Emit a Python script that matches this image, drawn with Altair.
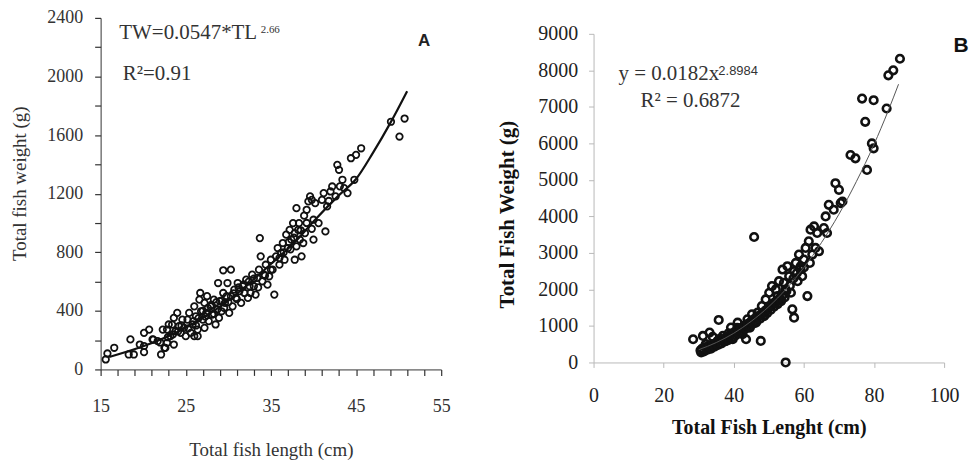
import altair as alt
import pandas as pd

# ---------------- Panel A data ----------------
a_len = [15.6, 15.8, 16.6, 18.5, 18.3, 18.9, 20.1, 20.1, 20.7, 20.1, 21.1, 21.7, 22.1, 22.3, 22.5,
         22.8, 22.8, 23.0, 23.2, 23.6, 23.6, 23.8, 24.0, 24.2, 24.4, 24.6, 24.8, 25.0, 25.2, 25.4,
         25.6, 25.8, 26.0, 26.0, 26.2, 26.4, 26.4, 26.6, 26.7, 26.8, 27.0, 27.2, 27.2, 27.4, 27.5,
         27.7, 27.9, 28.1, 28.3, 28.5, 28.7, 28.9, 29.0, 29.2, 29.4, 29.6, 29.9, 30.1, 30.3, 30.3,
         30.5, 30.7, 30.9, 31.1, 31.3, 31.5, 31.7, 31.9, 32.1, 32.3, 32.5, 32.6, 32.8, 33.0, 33.2,
         33.4, 33.6, 33.7, 33.8, 34.0, 34.2, 34.4, 34.6, 34.8, 35.0, 35.2, 35.4, 35.6, 35.8, 36.0,
         36.2, 36.4, 36.6, 36.8, 37.0, 37.2, 37.4, 37.6, 37.8, 37.8, 38.0, 38.2, 38.3, 38.4, 38.0,
         38.6, 38.8, 39.0, 39.2, 39.4, 39.6, 39.8, 40.0, 40.0, 40.2, 40.6, 41.0, 41.2, 41.4, 41.6,
         42.0, 42.2, 42.6, 42.8, 43.0, 43.4, 43.6, 44.0, 44.4, 44.8, 45.0, 45.6, 49.1, 50.1, 50.7,
         29.4, 28.8, 24.5, 25.3, 25.9, 26.5, 27.0, 27.6, 28.0, 28.6, 29.2, 29.8, 30.6, 31.2, 31.8,
         32.4, 33.0, 23.5, 24.1, 22.9, 26.2, 27.3, 28.3, 29.5, 30.0, 31.0, 33.5, 34.3, 35.0, 36.5,
         37.1, 37.7, 38.5, 39.2, 36.0, 37.3, 38.9, 39.8, 41.8, 43.1, 19.6, 21.2, 22.0, 22.6, 23.4]
a_wt = [68, 109, 148, 205, 102, 102, 160, 250, 272, 118, 205, 193, 102, 272, 148,
        182, 272, 307, 227, 352, 170, 261, 386, 295, 250, 340, 284, 227, 340, 386,
        250, 307, 431, 227, 363, 272, 227, 477, 522, 397, 340, 454, 284, 386, 500,
        330, 431, 375, 477, 307, 409, 352, 466, 397, 522, 454, 590, 386, 500, 681,
        431, 545, 488, 590, 534, 454, 568, 522, 613, 488, 568, 522, 647, 568, 511,
        625, 681, 897, 772, 602, 647, 715, 579, 636, 749, 681, 511, 772, 829, 715,
        795, 863, 749, 920, 829, 953, 886, 999, 931, 749, 840, 953, 999, 886, 1101,
        772, 863, 931, 1090, 1147, 1181, 1158, 886, 1022, 1135, 999, 1158, 1204, 942, 1113,
        1215, 1249, 1181, 1397, 1363, 1295, 1238, 1204, 1442, 1295, 1465, 1510, 1691, 1590, 1713,
        677, 590, 300, 280, 330, 350, 400, 420, 440, 460, 470, 500, 520, 560, 580,
        600, 620, 240, 260, 220, 300, 360, 380, 420, 460, 480, 560, 640, 680, 800,
        870, 900, 950, 1000, 760, 820, 1050, 960, 1150, 1250, 170, 204, 184, 147, 306]

# fitted curve A (TW = 0.0547*TL^2.66)
a_fit_len = [16, 20, 25, 30, 35, 38, 40, 43, 45, 47, 49, 51]
a_fit_wt = [85, 158, 285, 470, 720, 880, 1010, 1190, 1300, 1480, 1680, 1900]

# ---------------- Panel B data ----------------
b_len = [28.4, 30.7, 31.2, 33.1, 34.0, 35.4, 35.7, 36.9, 37.8, 38.3, 39.2, 39.7, 40.6, 41.1, 41.6,
         42.5, 43.0, 43.5, 43.9, 44.6, 45.2, 45.8, 46.3, 46.8, 47.7, 48.0, 48.7, 49.1, 49.6, 50.1,
         50.9, 51.5, 52.0, 52.5, 52.9, 53.4, 53.9, 54.3, 54.8, 54.8, 55.3, 55.8, 56.3, 56.7, 57.2,
         57.2, 57.7, 58.2, 58.6, 59.1, 59.5, 60.0, 60.5, 61.0, 61.4, 61.7, 61.9, 62.4, 62.9, 63.3,
         63.8, 64.3, 65.7, 66.2, 66.6, 67.1, 68.5, 69.0, 70.0, 70.5, 71.0, 73.3, 74.7, 76.6, 77.5,
         78.0, 79.9, 79.4, 79.9, 83.6, 84.1, 85.5, 87.4,
         30.5, 31.0, 31.5, 32.0, 32.5, 33.0, 33.5, 34.0, 34.5, 35.0, 35.5, 36.0, 36.5, 37.0, 37.5,
         38.0, 38.5, 39.0, 39.5, 40.0, 40.5, 41.0, 41.5, 42.0, 42.5, 43.0, 43.5, 44.0, 44.5, 45.0,
         45.5, 46.0, 46.5, 47.0, 47.5, 48.0, 48.5, 49.0, 49.5, 50.0, 50.5, 51.0, 51.5, 52.0, 52.5,
         53.0, 53.5, 54.0, 54.5, 55.0, 56.0, 57.0, 58.0, 59.0, 60.0, 32.0, 34.0, 36.0, 38.5, 41.0]
b_wt = [636, 273, 727, 818, 455, 591, 1164, 727, 591, 682, 955, 636, 818, 1091, 909,
        773, 1000, 636, 1182, 955, 1318, 3436, 1091, 1364, 591, 1545, 1273, 1727, 1455, 1909,
        2091, 1636, 2000, 1818, 2227, 1727, 2545, 2182, 0, 2000, 2636, 2364, 1909, 1455, 1227,
        2500, 2727, 2227, 2955, 2636, 2364, 2818, 3136, 1818, 3318, 2727, 3636, 2955, 3727, 3136,
        3545, 3045, 3682, 4000, 3545, 4318, 4182, 4909, 4727, 4364, 4409, 5682, 5591, 7227, 6591,
        5273, 7182, 6000, 5864, 6955, 7864, 8000, 8318,
        330, 380, 300, 420, 350, 450, 380, 500, 430, 540, 480, 600, 520, 640, 580,
        700, 620, 760, 680, 820, 740, 870, 800, 940, 860, 1000, 930, 1060, 990, 1130,
        1060, 1200, 1130, 1270, 1200, 1340, 1270, 1420, 1350, 1520, 1440, 1600, 1530, 1650, 1600,
        1750, 1680, 1850, 1780, 1950, 2100, 2300, 2450, 2550, 2600, 500, 700, 650, 800, 950]

# fitted curve B (y = 0.0182x^2.8984)
b_fit_len = [30, 35, 40, 45, 50, 55, 60, 65, 70, 75, 80, 84, 87]
b_fit_wt = [350, 545, 800, 1130, 1530, 2020, 2600, 3280, 4060, 4960, 5970, 6880, 7620]

SERIF = "Liberation Serif"
SANS = "Liberation Sans"

dfA = pd.DataFrame({"len": a_len, "wt": a_wt})
dfA_fit = pd.DataFrame({"len": a_fit_len, "wt": a_fit_wt})
dfB = pd.DataFrame({"len": b_len, "wt": b_wt})
dfB_fit = pd.DataFrame({"len": b_fit_len, "wt": b_fit_wt})

# ---------------- Panel A ----------------
xA = alt.X("len:Q", scale=alt.Scale(domain=[15, 55], nice=False, zero=False),
           axis=alt.Axis(values=list(range(15, 56, 2)),
                         labelExpr="(datum.value - 15) % 10 == 0 ? datum.label : ''",
                         labelOverlap=False, labelFlush=False,
                         title="Total fish length (cm)", grid=False, ticks=True,
                         domainColor="#333", tickColor="#333", tickSize=6, tickWidth=1.2,
                         labelFont=SERIF, labelFontSize=18, labelColor="#333", labelPadding=22,
                         titleFont=SERIF, titleFontSize=19, titleFontWeight="normal",
                         titleColor="#333", titlePadding=25))
yA = alt.Y("wt:Q", scale=alt.Scale(domain=[0, 2400], nice=False),
           axis=alt.Axis(values=list(range(0, 2401, 200)),
                         labelExpr="datum.value % 400 == 0 ? datum.label : ''",
                         labelOverlap=False, labelFlush=False,
                         format="d",
                         title="Total fish weight (g)", grid=False, ticks=True,
                         domainColor="#333", tickColor="#333", tickSize=6, tickWidth=1.2,
                         labelFont=SERIF, labelFontSize=18, labelColor="#333", labelPadding=12,
                         titleFont=SERIF, titleFontSize=19, titleFontWeight="normal",
                         titleColor="#333", titlePadding=17, titleY=166))

ptsA = alt.Chart(dfA).mark_point(shape="circle", filled=False, size=42, strokeWidth=1.8,
                                 color="#111", opacity=1).encode(x=xA, y=yA)
fitA = alt.Chart(dfA_fit).mark_line(color="#111", strokeWidth=2.2, interpolate="monotone").encode(
    x=xA, y=yA)

txtA1 = alt.Chart(pd.DataFrame({"len": [17.2, 17.6], "wt": [2296, 2020],
                                "txt": ["TW=0.0547*TL", "R²=0.91"]})).mark_text(
    align="left", baseline="middle", font=SERIF, fontSize=21, color="#333").encode(
    x=xA, y=yA, text="txt:N")
txtA2 = alt.Chart(pd.DataFrame({"len": [33.8], "wt": [2315], "txt": ["2.66"]})).mark_text(
    align="left", baseline="middle", font=SERIF, fontSize=11, color="#333").encode(
    x=xA, y=yA, text="txt:N")
labA = alt.Chart(pd.DataFrame({"len": [53.0], "wt": [2245], "txt": ["A"]})).mark_text(
    font=SANS, fontSize=17, fontWeight="bold", color="#222").encode(x=xA, y=yA, text="txt:N")

panelA = alt.layer(ptsA, fitA, txtA1, txtA2, labA).properties(width=342, height=353)

# ---------------- Panel B ----------------
xB = alt.X("len:Q", scale=alt.Scale(domain=[0, 100], nice=False, zero=False),
           axis=alt.Axis(values=list(range(0, 101, 20)), title="Total Fish Lenght (cm)", grid=False,
                         labelOverlap=False, labelFlush=False, ticks=True,
                         domainColor="#b8b8b8", tickColor="#b8b8b8", tickSize=5,
                         labelFont=SERIF, labelFontSize=20, labelColor="#222", labelPadding=18,
                         titleFont=SERIF, titleFontSize=20, titleFontWeight="bold",
                         titleColor="#111", titlePadding=12))
yB = alt.Y("wt:Q", scale=alt.Scale(domain=[0, 9000], nice=False, range=[346, 16]),
           axis=alt.Axis(values=list(range(0, 9001, 1000)), format="d",
                         labelOverlap=False, labelFlush=False, ticks=True,
                         title="Total Fish Weight (g)", grid=False,
                         domainColor="#b8b8b8", tickColor="#b8b8b8", tickSize=5,
                         labelFont=SERIF, labelFontSize=20, labelColor="#222", labelPadding=11,
                         titleFont=SERIF, titleFontSize=21, titleFontWeight="bold",
                         titleColor="#111", titlePadding=20, titleY=197))

ptsB = alt.Chart(dfB).mark_point(shape="circle", filled=False, size=58, strokeWidth=2.6,
                                 color="#111", opacity=1).encode(x=xB, y=yB)
fitB = alt.Chart(dfB_fit).mark_line(color="#555", strokeWidth=1, interpolate="monotone").encode(
    x=xB, y=yB)
txtB1 = alt.Chart(pd.DataFrame({"len": [7.1, 13.4], "wt": [7895, 7158],
                                "txt": ["y = 0.0182x", "R² = 0.6872"]})).mark_text(
    align="left", baseline="middle", font=SERIF, fontSize=21, color="#333").encode(
    x=xB, y=yB, text="txt:N")
txtB2 = alt.Chart(pd.DataFrame({"len": [35.6], "wt": [7990], "txt": ["2.8984"]})).mark_text(
    align="left", baseline="middle", font=SANS, fontSize=13, color="#333").encode(
    x=xB, y=yB, text="txt:N")
labB = alt.Chart(pd.DataFrame({"len": [104.8], "wt": [8672], "txt": ["B"]})).mark_text(
    font=SANS, fontSize=21, fontWeight="bold", color="#111", clip=False).encode(
    x=xB, y=yB, text="txt:N")

panelB = alt.layer(ptsB, fitB, txtB1, txtB2, labB).properties(width=352, height=346)

chart = alt.hconcat(panelA, panelB, spacing=47).resolve_scale(x="independent", y="independent") \
    .configure_view(stroke=None) \
    .configure_axis(labelOverlap=False) \
    .properties(background="white",
                padding={"left": 3, "top": 0, "right": 0, "bottom": 0})

chart.save("out.html", embed_options={"renderer": "svg", "actions": False})
